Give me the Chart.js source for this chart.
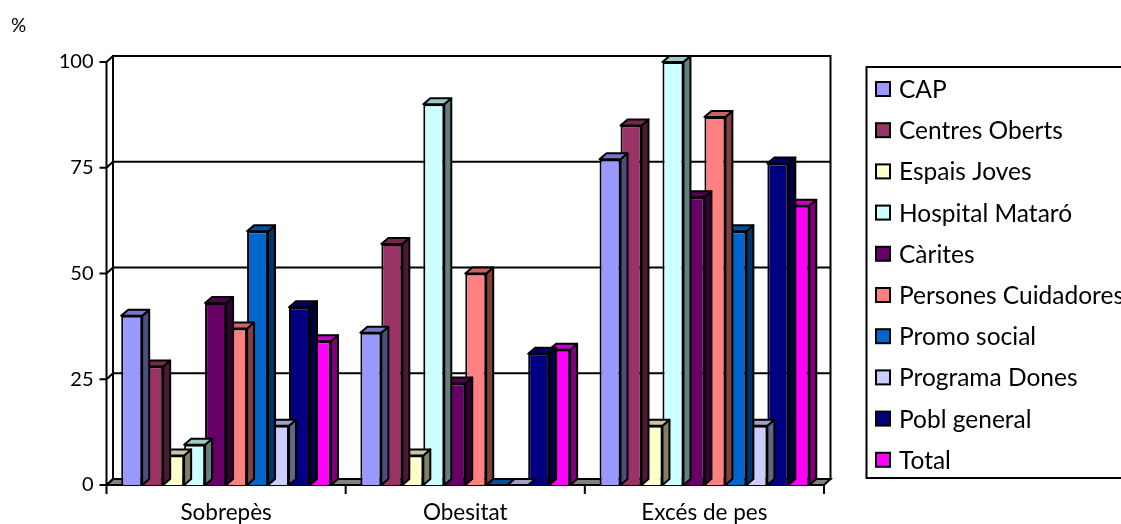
<!DOCTYPE html>
<html>
<head>
<meta charset="utf-8">
<script src="https://cdn.jsdelivr.net/npm/chart.js@4/dist/chart.umd.min.js"></script>
<style>
    html, body { margin: 0; padding: 0; background: #fff; overflow: hidden; }
</style>
</head>
<body>
<canvas id="chart" width="1121" height="524"></canvas>
<script>
const categories = ["Sobrepès", "Obesitat", "Excés de pes"]

const cap = [40, 36, 77]
const centresOberts = [28, 57, 85]
const espaisJoves = [7, 7, 14]
const hospitalMataro = [9.5, 90, 100]
const carites = [43, 24, 68]
const personesCuidadores = [37, 50, 87]
const promoSocial = [60, 0, 60]
const programaDones = [14, 0, 14]
const poblGeneral = [42, 31, 76]
const total = [34, 32, 66]

const yTicks = [0, 25, 50, 75, 100]

const FONT = "Lato"

// depth of the back wall and of each column
const WX = 6.5, WY = -6
const BX = 7, BY = -6

function shade(hex, f) {
    const n = parseInt(hex.slice(1), 16)
    const r = Math.round(((n >> 16) & 255) * f)
    const g = Math.round(((n >> 8) & 255) * f)
    const b = Math.round((n & 255) * f)
    return "rgb(" + r + "," + g + "," + b + ")"
}

function series(label, data, color) {
    return { label: label, data: data, backgroundColor: color, borderColor: "#000", borderWidth: 2, clip: false }
}

// walls, floor and the axis lines behind the columns
const walls = {
    id: "walls",
    beforeDatasetsDraw(chart) {
        const ctx = chart.ctx
        const { left, right, top, bottom } = chart.chartArea
        const ys = chart.scales.y
        const xs = chart.scales.x
        ctx.save()
        ctx.strokeStyle = "#000"
        ctx.lineWidth = 2
        ctx.lineCap = "square"

        ctx.beginPath()
        ctx.moveTo(left, bottom)
        ctx.lineTo(left + WX, bottom + WY)
        ctx.lineTo(right + WX, bottom + WY)
        ctx.lineTo(right, bottom)
        ctx.closePath()
        ctx.fillStyle = "#808080"
        ctx.fill()
        ctx.stroke()

        ctx.beginPath()
        yTicks.forEach(v => {
            const py = ys.getPixelForValue(v)
            ctx.moveTo(left + WX, py + WY)
            ctx.lineTo(right + WX, py + WY)
            ctx.moveTo(left, py)
            ctx.lineTo(left + WX, py + WY)
            ctx.moveTo(left - 6, py)
            ctx.lineTo(left, py)
        })
        ctx.moveTo(left + WX, top + WY)
        ctx.lineTo(left + WX, bottom + WY)
        ctx.moveTo(right + WX, top + WY)
        ctx.lineTo(right + WX, bottom + WY)
        ctx.moveTo(left, top)
        ctx.lineTo(left, bottom)
        ctx.moveTo(left, bottom)
        ctx.lineTo(right, bottom)
        for (let i = 0; i <= categories.length; i++) {
            const px = xs.getPixelForValue(i - 0.5)
            ctx.moveTo(px, bottom)
            ctx.lineTo(px, bottom + 8)
        }
        ctx.stroke()
        ctx.restore()
    }
}

// top and side faces of every column
const columns3d = {
    id: "columns3d",
    afterDatasetDraw(chart, args) {
        const ctx = chart.ctx
        const color = chart.data.datasets[args.index].backgroundColor
        ctx.save()
        ctx.strokeStyle = "#000"
        ctx.lineWidth = 2
        ctx.lineJoin = "round"
        args.meta.data.forEach(bar => {
            const { x, y, base, width } = bar.getProps(["x", "y", "base", "width"], true)
            const l = x - width / 2, r = x + width / 2
            const t = Math.min(y, base), b = Math.max(y, base)

            ctx.beginPath()
            ctx.moveTo(r, t)
            ctx.lineTo(r + BX, t + BY)
            ctx.lineTo(r + BX, b + BY)
            ctx.lineTo(r, b)
            ctx.closePath()
            ctx.fillStyle = shade(color, 0.5)
            ctx.fill()
            ctx.stroke()

            ctx.beginPath()
            ctx.moveTo(l, t)
            ctx.lineTo(l + BX, t + BY)
            ctx.lineTo(r + BX, t + BY)
            ctx.lineTo(r, t)
            ctx.closePath()
            ctx.fillStyle = shade(color, 0.78)
            ctx.fill()
            ctx.stroke()
        })
        ctx.restore()
    }
}

// boxed legend on the right and the unit label
const sideLegend = {
    id: "sideLegend",
    afterDraw(chart) {
        const ctx = chart.ctx
        ctx.save()
        ctx.strokeStyle = "#000"
        ctx.lineWidth = 2
        ctx.strokeRect(866.5, 67, 280, 411)

        ctx.font = "24.5px " + FONT
        ctx.textBaseline = "middle"
        ctx.textAlign = "left"
        chart.data.datasets.forEach((ds, i) => {
            const cy = 89 + i * 41.2
            ctx.fillStyle = ds.backgroundColor
            ctx.fillRect(876, cy - 7, 14, 14)
            ctx.strokeRect(876, cy - 7, 14, 14)
            ctx.fillStyle = "#000"
            ctx.fillText(ds.label, 899, cy + 1)
        })

        ctx.font = "19px " + FONT
        ctx.fillText("%", 11, 26)
        ctx.restore()
    }
}

new Chart(document.getElementById("chart"), {
    type: "bar",
    data: {
        labels: categories,
        datasets: [
            series("CAP", cap, "#9999FF"),
            series("Centres Oberts", centresOberts, "#993366"),
            series("Espais Joves", espaisJoves, "#FFFFCC"),
            series("Hospital Mataró", hospitalMataro, "#CCFFFF"),
            series("Càrites", carites, "#660066"),
            series("Persones Cuidadores", personesCuidadores, "#FF8080"),
            series("Promo social", promoSocial, "#0066CC"),
            series("Programa Dones", programaDones, "#CCCCFF"),
            series("Pobl general", poblGeneral, "#000080"),
            series("Total", total, "#FF00FF")
        ]
    },
    options: {
        responsive: false,
        animation: false,
        devicePixelRatio: 1,
        layout: { padding: { top: 62, right: 297, left: 0, bottom: 0 } },
        datasets: {
            bar: { categoryPercentage: 0.877, barPercentage: 1 }
        },
        plugins: {
            legend: { display: false },
            tooltip: { enabled: false }
        },
        scales: {
            x: {
                grid: { display: false, drawTicks: false },
                border: { display: false },
                ticks: { color: "#000", font: { family: FONT, size: 22.5 }, padding: 14, maxRotation: 0 },
                afterFit: s => { s.height = 39 }
            },
            y: {
                min: 0,
                max: 100,
                grid: { display: false, drawTicks: false },
                border: { display: false },
                afterBuildTicks: s => { s.ticks = yTicks.map(v => ({ value: v })) },
                ticks: { color: "#000", font: { family: FONT, size: 20 }, padding: 13 },
                afterFit: s => { s.width = 106.5 }
            }
        }
    },
    plugins: [walls, columns3d, sideLegend]
})
</script>
</body>
</html>
